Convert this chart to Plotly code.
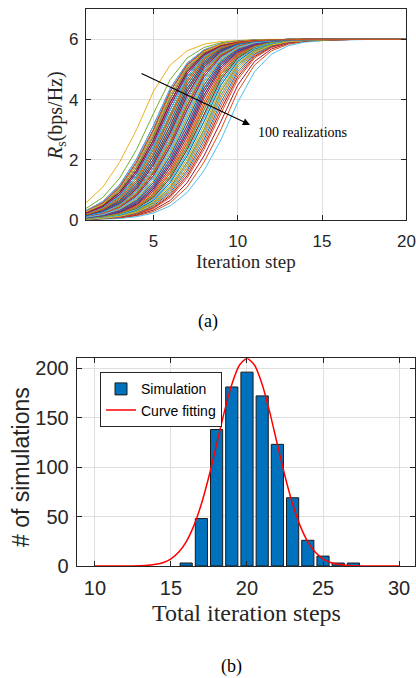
import plotly.graph_objects as go

# ---------------- (a) secrecy rate vs iteration step, 100 realizations ----------------
iteration_steps = list(range(1, 21))

rs_40 = [0.57,1.09,1.92,3.00,4.27,5.15,5.62,5.84,5.93,5.97,5.99,6,6,6,6,6,6,6,6,6]
rs_46 = [0.38,0.75,1.39,2.34,3.53,4.67,5.38,5.73,5.89,5.95,5.98,6,6,6,6,6,6,6,6,6]
rs_49 = [0.31,0.61,1.16,2.02,3.13,4.37,5.21,5.65,5.85,5.94,5.98,6,6,6,6,6,6,6,6,6]
rs_50 = [0.28,0.57,1.09,1.92,3.00,4.27,5.15,5.62,5.84,5.93,5.97,5.99,6,6,6,6,6,6,6,6]
rs_51 = [0.26,0.53,1.03,1.83,2.89,4.15,5.08,5.59,5.83,5.93,5.97,5.99,6,6,6,6,6,6,6,6]
rs_52 = [0.25,0.50,0.97,1.73,2.78,4.04,5.01,5.55,5.81,5.92,5.97,5.99,6,6,6,6,6,6,6,6]
rs_53 = [0.23,0.47,0.91,1.64,2.66,3.91,4.93,5.51,5.79,5.91,5.96,5.98,6,6,6,6,6,6,6,6]
rs_54 = [0.21,0.43,0.85,1.56,2.55,3.79,4.85,5.47,5.77,5.91,5.96,5.98,6,6,6,6,6,6,6,6]
rs_55 = [0.20,0.41,0.80,1.47,2.44,3.66,4.76,5.43,5.75,5.90,5.96,5.98,6,6,6,6,6,6,6,6]
rs_56 = [0.18,0.38,0.75,1.39,2.34,3.53,4.67,5.38,5.73,5.89,5.95,5.98,6,6,6,6,6,6,6,6]
rs_57 = [0.17,0.35,0.70,1.31,2.23,3.40,4.58,5.33,5.71,5.88,5.95,5.98,6,6,6,6,6,6,6,6]
rs_58 = [0.16,0.33,0.65,1.24,2.13,3.27,4.48,5.27,5.68,5.87,5.95,5.98,6,6,6,6,6,6,6,6]
rs_59 = [0.15,0.31,0.61,1.16,2.02,3.13,4.37,5.21,5.65,5.85,5.94,5.98,6,6,6,6,6,6,6,6]
rs_60 = [0.14,0.28,0.57,1.09,1.92,3.00,4.27,5.15,5.62,5.84,5.93,5.97,5.99,6,6,6,6,6,6,6]
rs_61 = [0.13,0.26,0.53,1.03,1.83,2.89,4.15,5.08,5.59,5.83,5.93,5.97,5.99,6,6,6,6,6,6,6]
rs_62 = [0.12,0.25,0.50,0.97,1.73,2.78,4.04,5.01,5.55,5.81,5.92,5.97,5.99,6,6,6,6,6,6,6]
rs_63 = [0.11,0.23,0.47,0.91,1.64,2.66,3.91,4.93,5.51,5.79,5.91,5.96,5.98,6,6,6,6,6,6,6]
rs_64 = [0.10,0.21,0.43,0.85,1.56,2.55,3.79,4.85,5.47,5.77,5.91,5.96,5.98,6,6,6,6,6,6,6]
rs_65 = [0.10,0.20,0.41,0.80,1.47,2.44,3.66,4.76,5.43,5.75,5.90,5.96,5.98,6,6,6,6,6,6,6]
rs_66 = [0.09,0.18,0.38,0.75,1.39,2.34,3.53,4.67,5.38,5.73,5.89,5.95,5.98,6,6,6,6,6,6,6]
rs_67 = [0.08,0.17,0.35,0.70,1.31,2.23,3.40,4.58,5.33,5.71,5.88,5.95,5.98,6,6,6,6,6,6,6]
rs_68 = [0.08,0.16,0.33,0.65,1.24,2.13,3.27,4.48,5.27,5.68,5.87,5.95,5.98,6,6,6,6,6,6,6]
rs_69 = [0.07,0.15,0.31,0.61,1.16,2.02,3.13,4.37,5.21,5.65,5.85,5.94,5.98,6,6,6,6,6,6,6]
rs_70 = [0.07,0.14,0.28,0.57,1.09,1.92,3.00,4.27,5.15,5.62,5.84,5.93,5.97,5.99,6,6,6,6,6,6]
rs_71 = [0.06,0.13,0.26,0.53,1.03,1.83,2.89,4.15,5.08,5.59,5.83,5.93,5.97,5.99,6,6,6,6,6,6]
rs_72 = [0.06,0.12,0.25,0.50,0.97,1.73,2.78,4.04,5.01,5.55,5.81,5.92,5.97,5.99,6,6,6,6,6,6]
rs_73 = [0.05,0.11,0.23,0.47,0.91,1.64,2.66,3.91,4.93,5.51,5.79,5.91,5.96,5.98,6,6,6,6,6,6]
rs_74 = [0.05,0.10,0.21,0.43,0.85,1.56,2.55,3.79,4.85,5.47,5.77,5.91,5.96,5.98,6,6,6,6,6,6]
rs_75 = [0.05,0.10,0.20,0.41,0.80,1.47,2.44,3.66,4.76,5.43,5.75,5.90,5.96,5.98,6,6,6,6,6,6]
rs_76 = [0.04,0.09,0.18,0.38,0.75,1.39,2.34,3.53,4.67,5.38,5.73,5.89,5.95,5.98,6,6,6,6,6,6]
rs_77 = [0.04,0.08,0.17,0.35,0.70,1.31,2.23,3.40,4.58,5.33,5.71,5.88,5.95,5.98,6,6,6,6,6,6]
rs_78 = [0.04,0.08,0.16,0.33,0.65,1.24,2.13,3.27,4.48,5.27,5.68,5.87,5.95,5.98,6,6,6,6,6,6]
rs_79 = [0.03,0.07,0.15,0.31,0.61,1.16,2.02,3.13,4.37,5.21,5.65,5.85,5.94,5.98,6,6,6,6,6,6]
rs_80 = [0.03,0.07,0.14,0.28,0.57,1.09,1.92,3.00,4.27,5.15,5.62,5.84,5.93,5.97,5.99,6,6,6,6,6]
rs_81 = [0.03,0.06,0.13,0.26,0.53,1.03,1.83,2.89,4.15,5.08,5.59,5.83,5.93,5.97,5.99,6,6,6,6,6]
rs_82 = [0.03,0.06,0.12,0.25,0.50,0.97,1.73,2.78,4.04,5.01,5.55,5.81,5.92,5.97,5.99,6,6,6,6,6]
rs_83 = [0.02,0.05,0.11,0.23,0.47,0.91,1.64,2.66,3.91,4.93,5.51,5.79,5.91,5.96,5.98,6,6,6,6,6]
rs_84 = [0.02,0.05,0.10,0.21,0.43,0.85,1.56,2.55,3.79,4.85,5.47,5.77,5.91,5.96,5.98,6,6,6,6,6]
rs_85 = [0.02,0.05,0.10,0.20,0.41,0.80,1.47,2.44,3.66,4.76,5.43,5.75,5.90,5.96,5.98,6,6,6,6,6]
rs_86 = [0.02,0.04,0.09,0.18,0.38,0.75,1.39,2.34,3.53,4.67,5.38,5.73,5.89,5.95,5.98,6,6,6,6,6]
rs_88 = [0.02,0.04,0.08,0.16,0.33,0.65,1.24,2.13,3.27,4.48,5.27,5.68,5.87,5.95,5.98,6,6,6,6,6]
rs_90 = [0.01,0.03,0.07,0.14,0.28,0.57,1.09,1.92,3.00,4.27,5.15,5.62,5.84,5.93,5.97,5.99,6,6,6,6]
rs_93 = [0.01,0.02,0.05,0.11,0.23,0.47,0.91,1.64,2.66,3.91,4.93,5.51,5.79,5.91,5.96,5.98,6,6,6,6]

# plotting order of the 100 realizations (MATLAB colour order cycles over it)
realizations = [
    rs_63, rs_90, rs_40, rs_71, rs_46, rs_93, rs_88, rs_55, rs_86, rs_68,
    rs_52, rs_76, rs_61, rs_85, rs_58, rs_84, rs_73, rs_65, rs_50, rs_79,
    rs_60, rs_54, rs_81, rs_67, rs_49, rs_75, rs_59, rs_62, rs_83, rs_56,
    rs_70, rs_64, rs_51, rs_78, rs_69, rs_53, rs_80, rs_66, rs_57, rs_72,
    rs_60, rs_82, rs_55, rs_74, rs_63, rs_50, rs_77, rs_68, rs_52, rs_75,
    rs_61, rs_58, rs_70, rs_65, rs_49, rs_76, rs_67, rs_54, rs_79, rs_62,
    rs_59, rs_81, rs_64, rs_51, rs_73, rs_69, rs_56, rs_80, rs_66, rs_53,
    rs_78, rs_60, rs_57, rs_72, rs_63, rs_55, rs_71, rs_68, rs_50, rs_82,
    rs_65, rs_52, rs_77, rs_61, rs_58, rs_74, rs_67, rs_54, rs_75, rs_62,
    rs_59, rs_70, rs_64, rs_51, rs_69, rs_56, rs_66, rs_53, rs_60, rs_57,
]

top_xticks = [5, 10, 15, 20]
top_yticks = [0, 2, 4, 6]

# ---------------- (b) histogram of total iteration steps ----------------
total_steps = [16, 17, 18, 19, 20, 21, 22, 23, 24, 25, 26, 27]
sim_counts = [3, 48, 138, 181, 196, 172, 123, 69, 26, 10, 3, 3]

fit_x = [10, 11, 12, 13, 13.5, 14, 14.5, 15, 15.5, 16, 16.5, 17, 17.5, 18, 18.5, 19, 19.5,
         20, 20.5, 21, 21.5, 22, 22.5, 23, 23.5, 24, 24.5, 25, 25.5, 26, 26.5, 27, 28, 29, 30]
fit_y = [0, 0, 0, 0.3, 0.7, 1.7, 3.6, 7.3, 13.9, 24.5, 40.6, 62.7, 90.7, 122.7, 155.3, 183.6, 203,
         210, 203, 183.6, 155.3, 122.7, 90.7, 62.7, 40.6, 24.5, 13.9, 7.3, 3.6, 1.7, 0.7, 0.3, 0, 0, 0]

bot_xticks = [10, 15, 20, 25, 30]
bot_yticks = [0, 50, 100, 150, 200]

# ---------------- figure ----------------
W, H = 416, 678
matlab_colors = ['#0072BD', '#D95319', '#EDB120', '#7E2F8E', '#77AC30', '#4DBEEE', '#A2142F']
AX = '#262626'
GRID = '#dfdfdf'
SANS = 'Liberation Sans, Arial, sans-serif'
SERIF = 'Liberation Serif, Times New Roman, serif'


def fx(p):
    return p / W


def fy(p):
    return 1 - p / H


fig = go.Figure()

for i, row in enumerate(realizations):
    fig.add_trace(go.Scatter(
        x=iteration_steps, y=row, mode='lines',
        line=dict(color=matlab_colors[i % 7], width=1),
        showlegend=False, hoverinfo='skip', xaxis='x', yaxis='y'))

fig.add_trace(go.Bar(
    x=total_steps, y=sim_counts, width=0.8, name='Simulation',
    marker=dict(color='#0072BD', line=dict(color='#1a1a1a', width=1)),
    xaxis='x2', yaxis='y2'))

fig.add_trace(go.Scatter(
    x=fit_x, y=fit_y, mode='lines', name='Curve fitting',
    line=dict(color='#FF0000', width=1.5, shape='spline', smoothing=0.6),
    xaxis='x2', yaxis='y2'))

axis_common = dict(
    ticks='inside', ticklen=5, tickcolor=AX, tickwidth=1,
    showline=True, linecolor=AX, linewidth=1, mirror='ticks',
    showgrid=True, gridcolor=GRID, gridwidth=1, zeroline=False,
    automargin=False,
)

fig.update_layout(
    width=W, height=H, autosize=False,
    margin=dict(l=0, r=0, t=0, b=0, autoexpand=False),
    paper_bgcolor='white', plot_bgcolor='white',
    showlegend=True,
    xaxis=dict(domain=[fx(85.9), fx(406.4)], anchor='y', range=[1, 20], tickvals=top_xticks,
               ticklabelstandoff=6,
               tickfont=dict(family=SANS, size=17, color=AX), **axis_common),
    yaxis=dict(domain=[fy(220), fy(9.3)], anchor='x', range=[0, 7], tickvals=top_yticks,
               ticklabelstandoff=3,
               tickfont=dict(family=SANS, size=17, color=AX), **axis_common),
    xaxis2=dict(domain=[fx(76.7), fx(415)], anchor='y2', range=[8.8, 31.05], tickvals=bot_xticks,
                ticklabelstandoff=4,
                tickfont=dict(family=SANS, size=20, color=AX), **axis_common),
    yaxis2=dict(domain=[fy(566), fy(358.3)], anchor='x2', range=[0, 210], tickvals=bot_yticks,
                ticklabelstandoff=3,
                tickfont=dict(family=SANS, size=20, color=AX), **axis_common),
    legend=dict(x=fx(100), y=fy(372.3), xanchor='left', yanchor='top',
                bgcolor='white', bordercolor=AX, borderwidth=1,
                font=dict(family=SANS, size=14, color='black'),
                tracegroupgap=0, itemwidth=30),
)

annotations = [
    # arrow pointing across the realizations
    dict(x=10.73, y=3.16, ax=4.21, ay=4.89, xref='x', yref='y', axref='x', ayref='y',
         text='', showarrow=True, arrowhead=2, arrowsize=1.2, arrowwidth=1.2, arrowcolor='black'),
    dict(x=11.07, y=2.92, xref='x', yref='y', text='100 realizations', showarrow=False,
         xanchor='left', yanchor='middle', font=dict(family=SERIF, size=14, color='black')),
    # axis titles
    dict(x=fx(246.5), y=fy(261), xref='paper', yref='paper', text='Iteration step',
         showarrow=False, xanchor='center', yanchor='middle',
         font=dict(family=SERIF, size=19, color=AX)),
    dict(x=fx(57), y=fy(116), xref='paper', yref='paper',
         text='<i>R</i><sub>s</sub>(bps/Hz)', textangle=-90,
         showarrow=False, xanchor='center', yanchor='middle',
         font=dict(family=SERIF, size=20, color=AX)),
    dict(x=fx(246.7), y=fy(612.5), xref='paper', yref='paper', text='Total iteration steps',
         showarrow=False, xanchor='center', yanchor='middle',
         font=dict(family=SERIF, size=24, color=AX)),
    dict(x=fx(21), y=fy(467), xref='paper', yref='paper', text='# of simulations', textangle=-90,
         showarrow=False, xanchor='center', yanchor='middle',
         font=dict(family=SANS, size=23, color=AX)),
    # sub-figure captions
    dict(x=fx(208), y=fy(321), xref='paper', yref='paper', text='(a)', showarrow=False,
         xanchor='center', yanchor='middle', font=dict(family=SERIF, size=18, color='black')),
    dict(x=fx(231.7), y=fy(666.7), xref='paper', yref='paper', text='(b)', showarrow=False,
         xanchor='center', yanchor='middle', font=dict(family=SERIF, size=18, color='black')),
]
fig.update_layout(annotations=annotations)

# remove the default 8px page margin so the figure sits at the window origin
fig.write_html('out.html',
               config={'displayModeBar': False},
               post_script="document.body.style.margin='0px';document.body.style.overflow='hidden';")
